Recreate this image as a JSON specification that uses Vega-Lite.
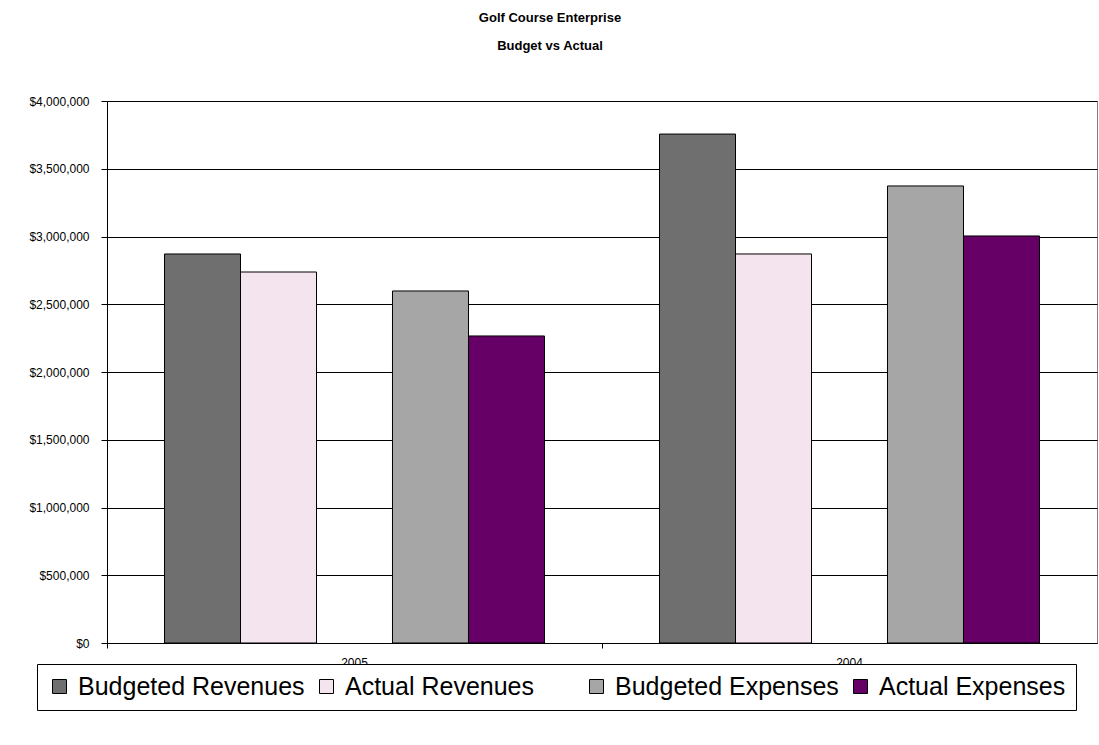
{
  "$schema": "https://vega.github.io/schema/vega-lite/v6.json",
  "width": 990,
  "height": 542,
  "autosize": {"type": "none"},
  "padding": {"left": 107, "top": 101, "right": 2, "bottom": 102},
  "background": "white",
  "title": {
    "text": ["Golf Course Enterprise", "Budget vs Actual"],
    "anchor": "middle",
    "frame": "group",
    "dx": -52,
    "font": "Liberation Sans",
    "fontSize": 13,
    "fontWeight": "bold",
    "color": "black",
    "lineHeight": 28,
    "offset": 42
  },
  "config": {
    "view": {"stroke": "#808080", "strokeWidth": 1},
    "font": "Liberation Sans"
  },
  "data": {
    "values": [
      {"year": "2005", "series": "Budgeted Revenues", "amount": 2871000},
      {"year": "2005", "series": "Actual Revenues", "amount": 2738000},
      {"year": "2005", "series": "Budgeted Expenses", "amount": 2598000},
      {"year": "2005", "series": "Actual Expenses", "amount": 2266000},
      {"year": "2004", "series": "Budgeted Revenues", "amount": 3756000},
      {"year": "2004", "series": "Actual Revenues", "amount": 2871000},
      {"year": "2004", "series": "Budgeted Expenses", "amount": 3373000},
      {"year": "2004", "series": "Actual Expenses", "amount": 3004000}
    ]
  },
  "mark": {"type": "bar", "stroke": "black", "strokeWidth": 1},
  "encoding": {
    "x": {
      "field": "year",
      "type": "nominal",
      "sort": ["2005", "2004"],
      "scale": {"paddingInner": 0, "paddingOuter": 0},
      "axis": {
        "title": null,
        "labelAngle": 0,
        "labelFont": "Liberation Sans",
        "labelFontSize": 12,
        "labelColor": "black",
        "labelPadding": 9,
        "bandPosition": 0,
        "ticks": true,
        "tickSize": 5,
        "tickColor": "black",
        "domainColor": "black",
        "grid": false
      }
    },
    "xOffset": {
      "field": "series",
      "type": "nominal",
      "scale": {
        "domain": ["Budgeted Revenues", "Actual Revenues", "Blank", "Budgeted Expenses", "Actual Expenses"],
        "paddingInner": 0,
        "paddingOuter": 0.757
      }
    },
    "y": {
      "field": "amount",
      "type": "quantitative",
      "scale": {"domain": [0, 4000000], "nice": false},
      "axis": {
        "title": null,
        "values": [0, 500000, 1000000, 1500000, 2000000, 2500000, 3000000, 3500000, 4000000],
        "format": "$,.0f",
        "labelFont": "Liberation Sans",
        "labelFontSize": 12,
        "labelColor": "black",
        "labelPadding": 12,
        "tickSize": 6,
        "tickColor": "black",
        "domainColor": "black",
        "grid": true,
        "gridColor": "black",
        "gridWidth": 1
      }
    },
    "fill": {
      "field": "series",
      "type": "nominal",
      "scale": {
        "domain": ["Budgeted Revenues", "Actual Revenues", "Blank", "Budgeted Expenses", "Actual Expenses"],
        "range": ["#6f6f6f", "#f4e4ee", "#ffffff", "#a6a6a6", "#660066"]
      },
      "legend": {
        "title": null,
        "orient": "none",
        "legendX": -70,
        "legendY": 563,
        "direction": "horizontal",
        "columns": 5,
        "gridAlign": "none",
        "symbolType": "square",
        "symbolSize": 196,
        "symbolStrokeColor": "black",
        "symbolStrokeWidth": 1,
        "labelFont": "Liberation Sans",
        "labelFontSize": 25,
        "labelColor": "black",
        "labelOffset": 6,
        "labelLimit": 400,
        "columnPadding": 9,
        "padding": 10,
        "strokeColor": "black",
        "fillColor": "white",
        "labelExpr": "datum.label == 'Blank' ? '\u2003\u2002' : datum.label",
        "encode": {
          "symbols": {"update": {"strokeOpacity": {"signal": "datum.label == 'Blank' ? 0 : 1"}}}
        }
      }
    }
  }
}
